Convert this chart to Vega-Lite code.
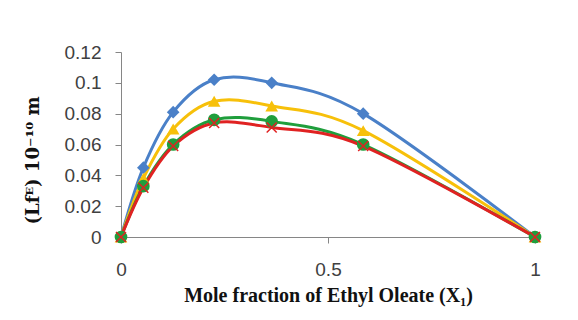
{
  "$schema": "https://vega.github.io/schema/vega-lite/v6.json",
  "width": 414,
  "height": 185,
  "autosize": "none",
  "padding": {"left": 121, "top": 52, "right": 43, "bottom": 83},
  "background": "white",
  "config": {
    "view": {"stroke": null},
    "axis": {
      "grid": false,
      "domainColor": "#868686",
      "tickColor": "#868686",
      "tickSize": 6,
      "labelFont": "Liberation Sans",
      "labelFontSize": 19,
      "labelColor": "#404040",
      "titleFont": "Liberation Serif",
      "titleFontWeight": "bold",
      "titleFontSize": 20,
      "titleColor": "#111111"
    }
  },
  "data": {
    "values": [
      {"series": "Series 1", "x": 0, "y": 0},
      {"series": "Series 1", "x": 0.054, "y": 0.045},
      {"series": "Series 1", "x": 0.126, "y": 0.081},
      {"series": "Series 1", "x": 0.225, "y": 0.102},
      {"series": "Series 1", "x": 0.364, "y": 0.1},
      {"series": "Series 1", "x": 0.585, "y": 0.08},
      {"series": "Series 1", "x": 1, "y": 0},
      {"series": "Series 2", "x": 0, "y": 0},
      {"series": "Series 2", "x": 0.054, "y": 0.038},
      {"series": "Series 2", "x": 0.126, "y": 0.07},
      {"series": "Series 2", "x": 0.225, "y": 0.088},
      {"series": "Series 2", "x": 0.364, "y": 0.085},
      {"series": "Series 2", "x": 0.585, "y": 0.069},
      {"series": "Series 2", "x": 1, "y": 0},
      {"series": "Series 3", "x": 0, "y": 0},
      {"series": "Series 3", "x": 0.054, "y": 0.033},
      {"series": "Series 3", "x": 0.126, "y": 0.06},
      {"series": "Series 3", "x": 0.225, "y": 0.076},
      {"series": "Series 3", "x": 0.364, "y": 0.075},
      {"series": "Series 3", "x": 0.585, "y": 0.06},
      {"series": "Series 3", "x": 1, "y": 0},
      {"series": "Series 4", "x": 0, "y": 0},
      {"series": "Series 4", "x": 0.054, "y": 0.032},
      {"series": "Series 4", "x": 0.126, "y": 0.059},
      {"series": "Series 4", "x": 0.225, "y": 0.074},
      {"series": "Series 4", "x": 0.364, "y": 0.071},
      {"series": "Series 4", "x": 0.585, "y": 0.059},
      {"series": "Series 4", "x": 1, "y": 0}
    ]
  },
  "encoding": {
    "x": {
      "field": "x",
      "type": "quantitative",
      "scale": {"domain": [0, 1], "nice": false, "zero": false},
      "axis": {
        "values": [0, 0.5, 1],
        "format": ".1~f",
        "labelPadding": 17,
        "labelFlush": false,
        "titlePadding": 6,
        "title": "Mole  fraction of Ethyl Oleate (X₁)"
      }
    },
    "y": {
      "field": "y",
      "type": "quantitative",
      "scale": {"domain": [0, 0.12], "nice": false},
      "axis": {
        "values": [0, 0.02, 0.04, 0.06, 0.08, 0.1, 0.12],
        "format": ".2~f",
        "labelPadding": 14,
        "titlePadding": 22,
        "titleFont": "DejaVu Serif",
        "titleFontSize": 18,
        "titleY": 108,
        "title": "(Lfᴱ) 10⁻¹⁰ m"
      }
    },
    "color": {
      "field": "series",
      "type": "nominal",
      "scale": {
        "domain": ["Series 1", "Series 2", "Series 3", "Series 4"],
        "range": ["#4a80c8", "#f7c00a", "#1f9e3c", "#e02222"]
      },
      "legend": null
    }
  },
  "layer": [
    {
      "mark": {"type": "line", "interpolate": "cardinal", "strokeWidth": 3}
    },
    {
      "transform": [{"filter": "datum.series != 'Series 4'"}],
      "mark": {"type": "point", "filled": true, "opacity": 1, "size": 160},
      "encoding": {
        "shape": {
          "field": "series",
          "type": "nominal",
          "scale": {
            "domain": ["Series 1", "Series 2", "Series 3"],
            "range": ["diamond", "triangle-up", "circle"]
          },
          "legend": null
        }
      }
    },
    {
      "transform": [{"filter": "datum.series == 'Series 4'"}],
      "mark": {
        "type": "point",
        "filled": false,
        "opacity": 1,
        "shape": "M-1,-1L1,1M-1,1L1,-1",
        "size": 100,
        "strokeWidth": 1.5
      }
    }
  ]
}
